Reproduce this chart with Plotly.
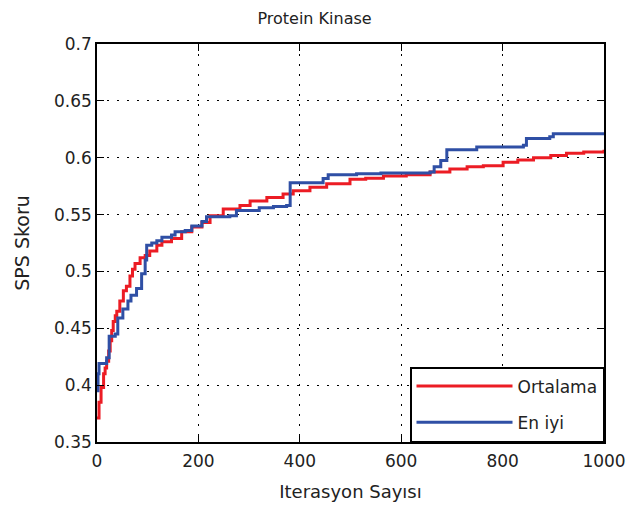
import plotly.graph_objects as go

# Ortalama (average) series
avg_iter = [0, 4, 8, 13, 16, 19, 23, 26, 29, 32, 36, 39, 45, 52, 58, 65, 70, 75, 85, 95,
            104, 118, 128, 147, 167, 187, 207, 223, 249, 282, 302, 335, 367, 387, 420, 453,
            499, 530, 565, 610, 657, 696, 730, 762, 801, 830, 861, 895, 926, 960, 1000]
avg_val = [0.371, 0.385, 0.398, 0.410, 0.415, 0.421, 0.430, 0.439, 0.448, 0.456, 0.461, 0.465,
           0.474, 0.483, 0.487, 0.496, 0.502, 0.507, 0.512, 0.514, 0.518, 0.523, 0.526, 0.529,
           0.535, 0.539, 0.543, 0.549, 0.555, 0.558, 0.562, 0.565, 0.568, 0.571, 0.574, 0.577,
           0.581, 0.582, 0.584, 0.585, 0.5875, 0.590, 0.592, 0.593, 0.596, 0.598, 0.600, 0.602,
           0.604, 0.605, 0.607]

# En iyi (best) series
best_iter = [0, 2, 4, 19, 24, 36, 41, 51, 61, 67, 78, 88, 95, 98, 108, 118, 128, 147, 154,
             174, 187, 207, 216, 262, 275, 320, 348, 374, 381, 446, 456, 512, 560, 657, 665,
             678, 690, 749, 841, 847, 893, 900, 1000]
best_val = [0.395, 0.410, 0.419, 0.424, 0.443, 0.445, 0.459, 0.467, 0.474, 0.479, 0.485, 0.498,
            0.510, 0.523, 0.525, 0.527, 0.530, 0.532, 0.535, 0.536, 0.540, 0.544, 0.548, 0.549,
            0.5535, 0.556, 0.557, 0.558, 0.578, 0.5817, 0.585, 0.586, 0.5865, 0.5875, 0.592,
            0.5975, 0.607, 0.6095, 0.611, 0.617, 0.6184, 0.621, 0.621]

x_ticks = [0, 200, 400, 600, 800, 1000]
y_ticks = [0.35, 0.4, 0.45, 0.5, 0.55, 0.6, 0.65, 0.7]
y_tick_text = ["0.35", "0.4", "0.45", "0.5", "0.55", "0.6", "0.65", "0.7"]

FONT = "DejaVu Sans, Liberation Sans, Arial, sans-serif"
TXT = "#222222"

fig = go.Figure()
fig.add_trace(go.Scatter(x=avg_iter, y=avg_val, mode="lines", name="Ortalama",
                         legendgroup="avg",
                         line=dict(color="#ec1c24", width=3, shape="hv")))
fig.add_trace(go.Scatter(x=best_iter, y=best_val, mode="lines", name="En iyi",
                         legendgroup="best",
                         line=dict(color="#2f4fa5", width=3, shape="hv")))

axis_common = dict(
    showline=True, linecolor="black", linewidth=1.5, mirror="ticks",
    ticks="inside", ticklen=7, tickcolor="black", tickwidth=1,
    showgrid=True, gridcolor="black", gridwidth=1, griddash="2px,8px",
    zeroline=False, automargin=False, tickfont=dict(family=FONT, size=17, color=TXT),
)

fig.update_xaxes(range=[0, 1000], tickvals=x_ticks, ticklabelstandoff=3,
                 title=dict(text="Iterasyon Sayısı", font=dict(family=FONT, size=18, color=TXT),
                            standoff=15),
                 **axis_common)
fig.update_yaxes(range=[0.35, 0.7], tickvals=y_ticks, ticktext=y_tick_text,
                 title=dict(text="SPS Skoru", font=dict(family=FONT, size=19, color=TXT),
                            standoff=19),
                 **axis_common)

fig.update_layout(
    width=629, height=511,
    margin=dict(l=97, r=25, t=44, b=69),
    paper_bgcolor="white", plot_bgcolor="white",
    title=dict(text="Protein Kinase", x=0.5, xanchor="center", y=1 - 18 / 511, yanchor="middle",
               font=dict(family=FONT, size=16, color=TXT)),
    showlegend=True,
    legend=dict(x=1, xanchor="right", y=0, yanchor="bottom",
                bgcolor="white", bordercolor="black", borderwidth=1.5,
                font=dict(family=FONT, size=17, color=TXT),
                itemwidth=96, tracegroupgap=11),
)

fig.write_html("out.html",
               config={"displayModeBar": False},
               post_script="document.body.style.margin='0';document.body.style.padding='0';")
